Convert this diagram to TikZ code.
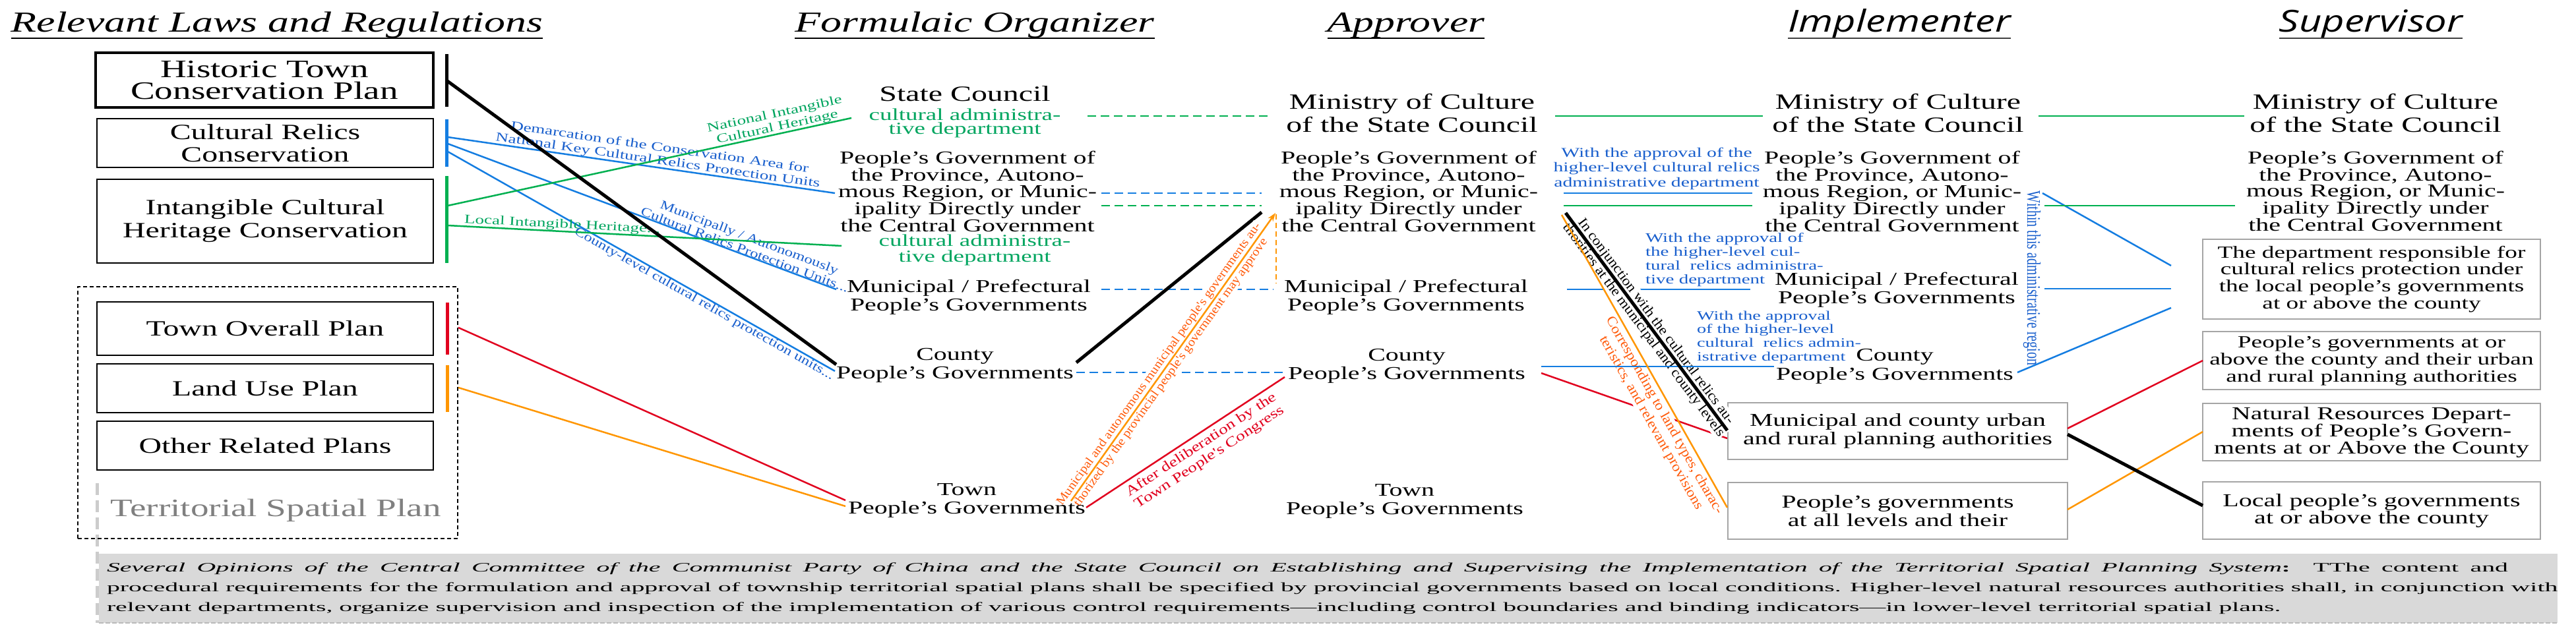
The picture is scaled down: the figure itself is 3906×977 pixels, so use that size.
\documentclass[tikz,border=0pt]{standalone}
\usepackage{fontspec}
\usepackage{graphicx}
\setmainfont{Liberation Serif}[FakeStretch=1.45]
\newfontfamily\lblA{Liberation Serif}[FakeStretch=1.42]
\newfontfamily\lblB{Liberation Serif}[FakeStretch=1.3]
\newfontfamily\lblC{Liberation Serif}[FakeStretch=1.1]
\newfontfamily\lblD{Liberation Serif}
\newfontfamily\botfont{Liberation Serif}[FakeStretch=2.04]
\newfontfamily\ttsans{Open Sans}[FakeStretch=1.3]
\usetikzlibrary{arrows.meta}
\newcommand{\fz}[2]{\fontsize{#1pt}{#2pt}\selectfont}
\definecolor{lnblue}{RGB}{20,125,225}
\definecolor{txblue}{RGB}{25,95,205}
\definecolor{lngreen}{RGB}{0,176,80}
\definecolor{txgreen}{RGB}{0,165,95}
\definecolor{lnred}{RGB}{225,0,30}
\definecolor{lnorange}{RGB}{255,150,0}
\definecolor{txorange}{RGB}{255,90,10}
\definecolor{boxgray}{RGB}{165,165,165}
\definecolor{notegray}{RGB}{217,217,217}
\tikzset{
  txt/.style={inner sep=0pt, outer sep=0pt, align=center, anchor=north},
  ttl/.style={inner sep=0pt, outer sep=0pt, anchor=base, font=\itshape\fz{44}{50}},
  ttls/.style={inner sep=0pt, outer sep=0pt, anchor=base, font=\ttsans\itshape\fz{46}{50}},
  lawbox/.style={draw=black, line width=1.5pt, minimum width=510pt, inner sep=0pt, align=center, font=\fz{33}{34}},
  supbox/.style={draw=boxgray, line width=1.5pt, minimum width=512pt, inner sep=0pt, align=center},
  prov/.style={txt, font=\fz{27.5}{24.75}},
  gov/.style={txt, font=\fz{27.5}{27.5}},
  mini/.style={txt, font=\fz{33}{35}},
  bluelbl/.style={txt, text=txblue},
  bar/.style={line width=5pt},
  ln/.style={line width=2.5pt},
  dashln/.style={line width=2.5pt, dash pattern=on 13pt off 7pt},
  thickln/.style={line width=5pt},
  lbl/.style={inner sep=1pt, outer sep=0pt, align=center},
  ulin/.style={line width=2pt},
}
\begin{document}
\begin{tikzpicture}[x=1pt,y=-1pt]
\useasboundingbox (0,0) rectangle (3906,977);
\fill[white] (0,0) rectangle (3906,977);

% ---------- titles
\node[ttl] (tLaw) at (420,48) {Relevant Laws and Regulations};
\node[ttl] (tOrg) at (1478,48) {Formulaic Organizer};
\node[ttl] (tApp) at (2132,48) {Approver};
\node[ttls] (tImp) at (2880,48) {Implementer};
\node[ttls] (tSup) at (3595,48) {Supervisor};
\foreach \t in {tLaw,tOrg,tApp} \draw[ulin] ([yshift=-10pt]\t.base west) -- ([yshift=-10pt]\t.base east);
\foreach \t in {tImp,tSup} \draw[ulin, black!75] ([yshift=-10pt]\t.base west) -- ([yshift=-10pt]\t.base east);

% ---------- bottom note
\node[fill=notegray, minimum width=3728pt, minimum height=105pt, inner sep=0pt] (note) at (2014,892.5) {};
\draw[gray!55, line width=2pt, dash pattern=on 7pt off 3pt] (note.south west) -- (note.south east);
\draw[gray!40, line width=5pt, dash pattern=on 18pt off 8pt] (147,733) -- (147,945);
\node[txt, anchor=north west, align=left, font=\botfont\fz{19.5}{30}] (notetxt) at (162,853.7)
 {\hbox to 3641pt{{\itshape Several Opinions of the Central Committee of the Communist Party of China and the State Council on Establishing and Supervising the Implementation of the Territorial Spatial Planning System}\textbf{:}\ \ TThe content and}\\
 \hbox to 3716pt{procedural requirements for the formulation and approval of township territorial spatial plans shall be specified by provincial governments based on local conditions. Higher-level natural resources authorities shall, in conjunction with}\\
 relevant departments, organize supervision and inspection of the implementation of various control requirements—including control boundaries and binding indicators—in lower-level territorial spatial plans.};

% ---------- left column
\node[lawbox, line width=4pt, font=\fz{38}{33}, minimum width=512pt, minimum height=83pt] (hist) at (401,121.5) {Historic Town\\Conservation Plan};
\node[lawbox, minimum height=74pt] (relic) at (402,217) {Cultural Relics\\Conservation};
\node[lawbox, minimum height=127pt, font=\fz{33}{35}] (ich) at (402,335.5) {Intangible Cultural\\Heritage Conservation};
\node[draw=black, line width=1.5pt, dash pattern=on 6pt off 4pt, minimum width=576pt, minimum height=382pt, inner sep=0pt] (tspbox) at (406,626) {};
\node[lawbox, minimum height=81pt] (tplan) at (402,498.5) {Town Overall Plan};
\node[lawbox, minimum height=74pt] (luse) at (402,589) {Land Use Plan};
\node[lawbox, minimum height=74pt] (other) at (402,676) {Other Related Plans};
\node[inner sep=0pt, anchor=base, text=gray, font=\fz{38}{40}] (tsp) at (418,783) {Territorial Spatial Plan};

\draw[bar] (677,82) -- (677,162);
\draw[bar, lnblue] (677,181) -- (677,253);
\draw[bar, lngreen] (677,267) -- (677,399);
\draw[bar, lnred] (678,459) -- (678,538);
\draw[bar, lnorange] (678,554) -- (678,625);

% ---------- formulaic organizer
\node[inner sep=0pt, anchor=base, font=\fz{33}{35}] (fState) at (1463,153) {State Council};
\node[txt, text=txgreen, font=\fz{25.5}{21.5}] (fStateC) at (1463,164.6) {cultural administra-\\tive department};
\node[prov] (fProv) at (1467,229.2) {People's Government of\\the Province, Autono-\\mous Region, or Munic-\\ipality Directly under\\the Central Government};
\node[txt, text=txgreen, font=\fz{25.5}{24}] (fProvC) at (1478,355.6) {cultural administra-\\tive department};
\node[gov] (fMun) at (1469,424.2) {Municipal / Prefectural\\People's Governments};
\node[gov] (fCnty) at (1448,528.4) {County\\People's Governments};

% ---------- approver
\node[mini] (aMin) at (2141,142.5) {Ministry of Culture\\of the State Council};
\node[prov] (aProv) at (2136,229.2) {People's Government of\\the Province, Autono-\\mous Region, or Munic-\\ipality Directly under\\the Central Government};
\node[gov] (aMun) at (2132,424.2) {Municipal / Prefectural\\People's Governments};
\node[gov] (aCnty) at (2133,529.4) {County\\People's Governments};
\node[gov] (aTown) at (2130,734.8) {Town\\People's Governments};

% ---------- implementer
\node[mini] (iMin) at (2878,142.5) {Ministry of Culture\\of the State Council};
\node[bluelbl, font=\fz{20.5}{22.5}] (iLbl1) at (2512,224) {With the approval of the\\higher-level cultural relics\\administrative department};
\node[prov] (iProv) at (2869,229.2) {People's Government of\\the Province, Autono-\\mous Region, or Munic-\\ipality Directly under\\the Central Government};
\node[bluelbl, anchor=north west, align=left, font=\fz{20}{21}] (iLbl2) at (2495,353.3) {With the approval of\\the higher-level cul-\\tural\ \ relics administra-\\tive department};
\node[gov] (iMun) at (2876,413.2) {Municipal / Prefectural\\People's Governments};
\node[bluelbl, anchor=north west, align=left, font=\fz{19.5}{20.7}] (iLbl3) at (2573,471.7) {With the approval\\of the higher-level\\cultural\ \ relics admin-\\istrative department};
\node[txt, font=\fz{27.5}{29}] (iCnty) at (2873,529.4) {County\\People's Governments};
\node[inner sep=0pt, rotate=-90, text=txblue, font=\lblD\fz{20}{22}] (iWithin) at (3081,422) {\scalebox{1}[1.45]{Within this administrative region}};
\node[supbox, minimum width=515pt, minimum height=86pt, font=\fz{27.4}{28}] (iPlan) at (2877.5,654) {Municipal and county urban\\and rural planning authorities};
\node[supbox, minimum width=515pt, minimum height=86pt, font=\fz{27.6}{28}] (iAll) at (2877.5,775) {People's governments\\at all levels and their};

% ---------- supervisor
\node[mini] (sMin) at (3602,142.5) {Ministry of Culture\\of the State Council};
\node[txt, font=\fz{27.5}{24.25}] (sProv) at (3602,229.2) {People's Government of\\the Province, Autono-\\mous Region, or Munic-\\ipality Directly under\\the Central Government};
\node[supbox, minimum height=121pt, font=\fz{25.7}{25.6}] (sDept) at (3596,423.5) {The department responsible for\\cultural relics protection under\\the local people's governments\\at or above the county};
\node[supbox, minimum height=88pt, font=\fz{25.8}{26}] (sGov) at (3596,547) {People's governments at or\\above the county and their urban\\and rural planning authorities};
\node[supbox, minimum height=87pt, font=\fz{27.4}{26}] (sNR) at (3596,655.5) {Natural Resources Depart-\\ments of People's Govern-\\ments at or Above the County};
\node[supbox, minimum height=87pt, font=\fz{27.6}{26}] (sLoc) at (3596,774.5) {Local people's governments\\at or above the county};

% ---------- connector end points
\coordinate (kH) at (677,122);
\coordinate (kB1) at (679,208); \coordinate (kB2) at (679,218); \coordinate (kB3) at (679,230);
\coordinate (kG1) at (679,312); \coordinate (kG2) at (679,342);
\coordinate (kR) at (695,497); \coordinate (kO) at (695,588);
\coordinate (fB1) at (1266,293); \coordinate (fB2) at (1268,439); \coordinate (fB3) at (1266,563);
\coordinate (fG1) at (1291,179); \coordinate (fG2) at (1276,373);
\coordinate (fH) at (1268,553); \coordinate (fR) at (1282,759); \coordinate (fO) at (1282,768);

\coordinate (f1r) at (1649,176); \coordinate (a1l) at (1928,176);
\coordinate (f2r) at (1670,293); \coordinate (a2l) at (1913,293);
\coordinate (f3r) at (1670,312); \coordinate (a3l) at (1913,312);
\coordinate (f4r) at (1670,439); \coordinate (a4l) at (1931,439);
\coordinate (f5r) at (1632,565); \coordinate (a5l) at (1948,565);
\coordinate (fCk) at (1632,550); \coordinate (aPk) at (1913,322);
\coordinate (fTo) at (1624,760); \coordinate (aPo) at (1934,323);
\coordinate (aPd) at (1935,325); \coordinate (aMd) at (1935,430);
\coordinate (fTr) at (1647,770); \coordinate (aCr) at (1948,572);

\coordinate (a1r) at (2358,176); \coordinate (i1l) at (2673,176);
\coordinate (a2r) at (2371,293); \coordinate (i2l) at (2657,293);
\coordinate (a3r) at (2371,312); \coordinate (i3l) at (2657,312);
\coordinate (a4r) at (2376,439); \coordinate (i4l) at (2654,439);
\coordinate (a5r) at (2337,556); \coordinate (i5l) at (2690,556);
\coordinate (aCr2) at (2337,566); \coordinate (iPr) at (2619,665);
\coordinate (aPk2) at (2374,323); \coordinate (iPk) at (2619,653);
\coordinate (aPo2) at (2368,326); \coordinate (iAo) at (2619,770);

\coordinate (i1r) at (3091,176); \coordinate (s1l) at (3403,176);
\coordinate (i2r) at (3097,293); \coordinate (s2l) at (3292,403);
\coordinate (i3r) at (3100,312); \coordinate (s3l) at (3389,312);
\coordinate (i4r) at (3100,438); \coordinate (s4l) at (3292,438);
\coordinate (i5r) at (3059,565); \coordinate (s5l) at (3292,467);
\coordinate (iPr2) at (3135,650); \coordinate (sGr) at (3340,547);
\coordinate (iPk2) at (3135,659); \coordinate (sLk) at (3340,767);
\coordinate (iAo2) at (3135,773); \coordinate (sNo) at (3340,655);

% ---------- left -> organizer
\draw[ln, lnblue] (kB1) -- node[lbl, sloped, above, pos=0.54, text=txblue, font=\lblA\fz{19}{20}] (lDem) {Demarcation of the Conservation Area for\\National Key Cultural Relics Protection Units} (fB1);
\draw[ln, lnblue] (kB2) -- node[lbl, sloped, above, pos=0.76, text=txblue, font=\lblB\fz{19}{20}] (lMun) {Municipally / Autonomously\\Cultural Relics Protection Units...} (fB2);
\draw[ln, lnblue] (kB3) -- node[lbl, sloped, below, pos=0.67, text=txblue, font=\lblB\fz{19}{20}] (lCty) {County-level cultural relics protection units...} (fB3);
\draw[ln, lngreen] (kG1) -- node[lbl, sloped, above, pos=0.82, text=txgreen, font=\lblA\fz{19}{20}] (lNat) {National Intangible\\Cultural Heritage} (fG1);
\draw[ln, lngreen] (kG2) -- node[lbl, sloped, above, pos=0.29, text=txgreen, font=\lblA\fz{19}{20}] (lLoc) {Local Intangible Heritage...} (fG2);
\draw[ln, lnred] (kR) -- (fR);
\draw[ln, lnorange] (kO) -- (fO);
\draw[thickln] (kH) -- (fH);

% ---------- organizer -> approver
\draw[dashln, lngreen] (f1r) -- (a1l);
\draw[dashln, lnblue] (f2r) -- (a2l);
\draw[dashln, lngreen] (f3r) -- (a3l);
\draw[dashln, lnblue] (f4r) -- (a4l);
\draw[dashln, lnblue] (f5r) -- (a5l);
\draw[thickln] (fCk) -- (aPk);
\path (fTo) -- node[lbl, sloped, pos=0.46, fill=white, text=txorange, font=\lblC\fz{18.5}{22}] (lAuth) {Municipal and autonomous municipal people's governments au-\\thorized by the provincial people's government may approve} (aPo);
\draw[ln, lnorange, -{Stealth[length=13pt,width=9pt]}] (fTo) -- (aPo);
\draw[ln, lnorange, dash pattern=on 8pt off 5pt] (aPd) -- (aMd);
\draw[ln, lnred] (fTr) -- node[lbl, sloped, below=6pt, pos=0.55, text=lnred, font=\lblB\fz{21}{23}] (lDel) {After deliberation by the\\Town People's Congress} (aCr);
\node[gov] (fTown) at (1466,733.8) {Town\\People's Governments};

% ---------- approver -> implementer
\draw[ln, lngreen] (a1r) -- (i1l);
\draw[ln, lnblue] (a2r) -- (i2l);
\draw[ln, lngreen] (a3r) -- (i3l);
\draw[ln, lnblue] (a4r) -- (i4l);
\draw[ln, lnred] (aCr2) -- (iPr);
\path (aPk2) -- node[lbl, sloped, pos=0.52, fill=white, font=\lblC\fz{21}{23}] (lConj) {In conjunction with the cultural relics au-\\thorities at the municipal and county levels} (iPk);
\path (aPo2) -- node[lbl, sloped, below=4pt, pos=0.67, fill=white, text=txorange, font=\lblC\fz{21}{23}] (lCorr) {Corresponding to land types, charac-\\teristics, and relevant provisions} (iAo);
\draw[ln, lnblue] (a5r) -- (i5l);
\draw[thickln] (aPk2) -- (iPk);
\draw[ln, lnorange] (aPo2) -- (iAo);

% ---------- implementer -> supervisor
\draw[ln, lngreen] (i1r) -- (s1l);
\draw[ln, lnblue] (i2r) -- (s2l);
\draw[ln, lngreen] (i3r) -- (s3l);
\draw[ln, lnblue] (i4r) -- (s4l);
\draw[ln, lnblue] (i5r) -- (s5l);
\draw[ln, lnred] (iPr2) -- (sGr);
\draw[ln, lnorange] (iAo2) -- (sNo);
\draw[thickln] (iPk2) -- (sLk);
\end{tikzpicture}
\end{document}
